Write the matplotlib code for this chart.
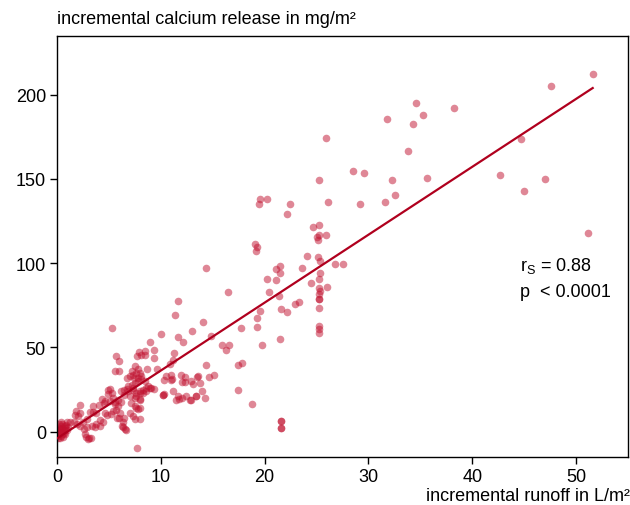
import matplotlib
matplotlib.use("Agg")
import matplotlib.pyplot as plt
import numpy as np

plt.rcParams['font.family'] = ['Liberation Sans', 'DejaVu Sans']
plt.rcParams['mathtext.fontset'] = 'custom'
plt.rcParams['mathtext.rm'] = 'Liberation Sans'
plt.rcParams['mathtext.it'] = 'Liberation Sans:italic'

# incremental runoff (L/m²) and incremental calcium release (mg/m²)
pts = [
    # origin blob
    (0.05,-3.5),(0.1,-2.5),(0.15,-1.5),(0.2,-0.5),(0.1,0.5),(0.3,1.5),(0.2,2.5),(0.4,3.5),
    (0.5,4.5),(0.35,-2.8),(0.5,-1.5),(0.6,0.0),(0.7,1.0),(0.8,2.5),(0.9,4.0),(0.65,-0.8),
    (0.25,0.0),(0.45,2.0),(1.0,1.0),(1.1,3.0),(0.15,4.5),(0.05,1.0),(0.3,-3.8),(0.55,-3.0),
    (0.8,-1.2),(1.0,5.5),(0.75,3.5),(0.4,5.5),
    # low x
    (1.3,5.9),(1.6,5.5),(1.9,4.5),(2.25,3.5),(2.6,1.6),(2.9,2.6),(3.4,3.5),(3.7,2.6),
    (2.25,15.7),(1.85,12.4),(2.2,11.4),(1.7,10.1),(2.05,9.1),(3.5,11.8),(3.8,11.0),(3.2,11.5),
    (2.85,7.5),(2.5,5.5),(3.8,4.5),(4.1,3.5),(4.45,5.5),(2.8,-3.4),(3.1,-4.0),(2.7,-1.4),
    (2.95,-4.6),(3.3,-3.8),
    (4.5,17.3),(5.1,18.3),(4.9,22.3),(5.1,25.2),(4.0,16.1),(3.5,15.1),(4.3,19.2),(4.6,11.4),
    (5.2,10.4),(4.8,10.1),(5.4,12.1),(5.7,13.1),(4.1,7.0),
    # x 5-9
    (5.6,16.3),(5.9,15.3),(6.05,11.4),(5.8,8.4),(6.25,3.4),(6.55,1.9),(6.4,5.5),(6.5,8.0),
    (7.7,-9.9),
    (6.7,25.2),(7.3,26.2),(7.65,21.3),(7.95,19.3),(7.15,17.3),(7.5,15.4),(7.8,13.4),(7.0,11.4),
    (7.3,9.4),(7.95,7.4),(7.65,13.8),(7.5,7.4),(8.0,14.3),(8.0,23.2),(8.3,23.2),
    (5.4,20.0),(5.6,17.5),(4.9,25.0),(5.25,23.0),(4.6,18.0),(5.9,19.0),(6.2,17.4),(6.5,22.0),
    (7.0,21.0),(7.5,20.0),
    (6.2,24.0),(6.5,25.0),(6.85,27.0),(7.2,28.0),(7.5,29.0),(7.8,30.0),(8.1,31.0),(8.45,30.0),
    (8.8,27.0),(9.1,26.0),
    (6.85,24.0),(7.3,25.0),(7.65,23.0),(8.0,24.0),(8.3,25.0),(8.6,26.0),
    (5.6,35.9),(6.0,35.9),(7.5,38.9),(7.8,37.3),(7.2,35.9),(7.65,34.9),(8.0,34.9),(7.3,33.9),
    (7.0,32.9),(7.4,32.0),(7.8,32.0),(8.1,32.9),(8.7,37.5),(6.76,32.0),(9.6,37.3),
    (7.9,47.6),(8.45,47.8),(8.1,45.8),(7.75,45.2),(8.45,45.4),(9.3,48.4),(9.3,43.9),(5.7,44.8),
    (6.0,41.8),(11.3,46.6),(11.2,42.4),(10.9,39.9),
    (5.3,61.7),(10.0,57.9),(11.65,56.3),(12.1,53.4),(9.0,53.1),(13.0,59.7),(11.7,77.6),(11.4,69.0),
    (10.35,30.4),(11.1,31.0),(11.9,33.5),(12.35,32.6),(12.0,29.8),(12.3,29.8),(10.96,33.9),
    (12.95,30.0),(10.5,33.3),(13.5,32.5),(13.1,28.5),(11.0,30.7),
    (10.2,22.0),(11.2,24.0),(11.65,21.0),(12.0,20.0),(11.5,19.0),(12.8,19.0),(12.9,18.8),
    (6.0,8.0),(6.6,1.0),(6.4,3.0),(8.0,19.0),(9.0,26.2),(9.3,25.6),(10.25,21.7),(8.6,24.1),
    (12.45,21.2),(13.4,21.2),(11.75,19.7),(10.3,22.3),
    # x 13-27
    (14.0,23.9),(13.4,21.3),(14.3,20.3),(13.6,32.8),(13.75,28.8),(15.1,33.8),(14.6,32.4),
    (14.4,39.7),(17.4,39.7),(17.8,40.5),(17.4,24.5),(18.75,16.3),(21.55,6.5),(21.55,6.5),
    (21.55,2.2),(21.55,2.2),
    (15.9,51.5),(16.6,51.5),(16.3,48.5),(19.7,51.7),(21.5,55.2),(14.8,56.6),(17.7,61.4),
    (19.3,61.9),(14.1,65.0),(19.3,67.6),(22.2,70.8),(19.6,71.7),(21.6,73.1),(25.2,73.3),
    (22.95,75.6),(23.3,77.1),(25.2,78.6),(21.4,80.7),(16.5,82.7),(20.4,83.1),(25.2,85.5),
    (25.3,83.5),(25.2,81.6),(26.0,85.9),(24.45,88.4),(20.25,90.4),(21.06,90.0),(25.2,90.8),
    (21.5,94.0),(25.3,94.4),(14.4,96.9),(23.6,97.3),(21.1,96.7),(21.5,98.3),(26.8,99.7),
    (27.5,99.5),(25.1,103.5),(25.3,101.5),(24.1,104.1),(19.1,111.4),(19.25,109.4),(19.2,107.4),
    (25.0,115.4),(25.2,116.8),(25.9,116.9),(25.1,113.9),(24.7,121.6),(25.2,122.8),(22.2,129.0),
    (22.4,135.2),(19.5,134.9),(19.6,138.0),(20.2,138.3),(26.1,136.6),(25.2,149.3),(25.9,174.2),
    (25.2,61.1),(25.2,58.6),(25.2,78.6),(25.2,63.0),
    # upper right
    (51.6,212.3),(47.6,205.0),(34.6,194.8),(38.2,191.9),(31.8,185.5),(35.3,187.7),(34.3,182.7),
    (33.8,166.5),(44.7,173.8),(28.5,155.0),(29.6,153.8),(32.3,149.6),(35.6,150.4),(29.2,134.9),
    (31.6,136.1),(32.6,140.5),(42.7,152.4),(45.0,143.0),(47.0,150.0),(51.1,117.7),
]
runoff = [p[0] for p in pts]
calcium = [p[1] for p in pts]

fit_slope = 4.03
fit_intercept = -4.0
r_s = "0.88"
p_text = "< 0.0001"

xticks = [0, 10, 20, 30, 40, 50]
yticks = [0, 50, 100, 150, 200]

point_color = "#c0102e"
line_color = "#b0001e"
FS = 13

fig = plt.figure(figsize=(6.30, 5.06), dpi=100)
ax = fig.add_axes([57/630, 1-458/506, (628-57)/630, (458-36.7)/506])

ax.scatter(runoff, calcium, s=30, color=point_color, alpha=0.5, linewidths=0, zorder=2)
xs = np.array([0.0, max(runoff)])
ax.plot(xs, fit_intercept + fit_slope*xs, color=line_color, lw=1.6, zorder=3)

ax.set_xlim(0, 55)
ax.set_ylim(-15, 235)
ax.set_xticks(xticks)
ax.set_yticks(yticks)
ax.tick_params(direction='out', length=5, width=1, labelsize=FS, colors='black', pad=3)
for s in ax.spines.values():
    s.set_linewidth(1.0)
    s.set_color('black')

ax.text(44.6, 99, r"r$_\mathrm{S}$ = " + r_s, fontsize=FS, va='center', ha='left')
ax.text(44.6, 83, "p  " + p_text, fontsize=FS, va='center', ha='left')

fig.text(57/630, 1-20/506, "incremental calcium release in mg/m²", fontsize=FS, ha='left', va='center')
fig.text(630/630, 1-497/506, "incremental runoff in L/m²", fontsize=FS, ha='right', va='center')

fig.savefig("out.png", dpi=100)
